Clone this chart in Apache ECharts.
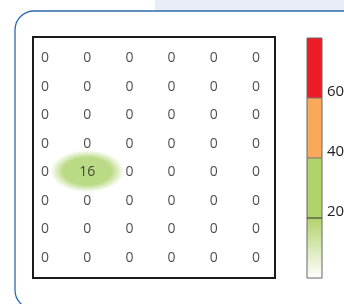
<!DOCTYPE html>
<html>
<head>
<meta charset="utf-8">
<script src="https://cdn.jsdelivr.net/npm/echarts@6/dist/echarts.min.js"></script>
<style>html,body{margin:0;padding:0;background:#fff}#c{width:344px;height:304px}</style>
</head>
<body>
<div id="c"></div>
<script>
var columns = ['c1','c2','c3','c4','c5','c6'];
var rows = ['r1','r2','r3','r4','r5','r6','r7','r8'];
var values = [
  [0,0,0,0,0,0],
  [0,0,0,0,0,0],
  [0,0,0,0,0,0],
  [0,0,0,0,0,0],
  [0,16,0,0,0,0],
  [0,0,0,0,0,0],
  [0,0,0,0,0,0],
  [0,0,0,0,0,0]
];
var legendTicks = [20, 40, 60];
var legendMax = 80;

var data = [];
for (var r = 0; r < rows.length; r++) {
  for (var c = 0; c < columns.length; c++) {
    data.push([c, r, values[r][c]]);
  }
}

var chart = echarts.init(document.getElementById('c'));
var barX = 307, barTop = 38, barH = 240, barW = 15;
function yOf(v){ return barTop + barH * (1 - v / legendMax); }
var graphics = [
  {type:'rect', shape:{x:155,y:0,width:189,height:12}, style:{fill:'#e9edf6'}, z:-10},
  {type:'rect', shape:{x:15,y:11,width:360,height:298,r:19}, style:{fill:'#fff',stroke:'#2e6aab',lineWidth:1.3}, z:-9},
  {type:'rect', shape:{x:33,y:37,width:242,height:241}, style:{fill:'none',stroke:'#1a1a1a',lineWidth:2}, z:10},
  {type:'rect', shape:{x:barX,y:yOf(80),width:barW,height:yOf(60)-yOf(80)}, style:{fill:'#ec1c24'}},
  {type:'rect', shape:{x:barX,y:yOf(60),width:barW,height:yOf(40)-yOf(60)}, style:{fill:'#f8aa5a'}},
  {type:'rect', shape:{x:barX,y:yOf(40),width:barW,height:yOf(20)-yOf(40)}, style:{fill:'#b2d36b'}},
  {type:'rect', shape:{x:barX,y:yOf(20),width:barW,height:yOf(0)-yOf(20)}, style:{fill:new echarts.graphic.LinearGradient(0,0,0,1,[{offset:0,color:'#b2d36b'},{offset:1,color:'#ffffff'}])}},
  {type:'rect', shape:{x:barX,y:barTop,width:barW,height:barH}, style:{fill:'none',stroke:'#666',lineWidth:1}}
];
legendTicks.forEach(function(t){
  graphics.push({type:'line', shape:{x1:barX,y1:yOf(t),x2:barX+barW,y2:yOf(t)}, style:{stroke:t===20?'#333':'#777',lineWidth:1}});
  graphics.push({type:'text', x:barX+20, y:yOf(t)-6, style:{text:String(t), font:'15px "Open Sans"', fill:'#222', verticalAlign:'middle', align:'left'}});
});

function greenFor(v){
  var t = 0.55 + 0.45 * Math.min(v,20)/20;
  var g=[0xa2,0xcc,0x58];
  return g.map(function(x){return Math.round(255+(x-255)*t);});
}

chart.setOption({
  animation:false,
  graphic: graphics,
  grid:{left:24, right:67, top:44, bottom:32},
  xAxis:{type:'category', data:columns, show:false},
  yAxis:{type:'category', data:rows, inverse:true, show:false},
  series:[{
    type:'scatter',
    data:data,
    symbol:'circle',
    symbolSize:function(v){ return v[2] > 0 ? [74, 42] : 10; },
    symbolOffset:[0,-1],
    itemStyle:{
      color:function(p){
        var v = p.value[2];
        if (v <= 0) return 'rgba(0,0,0,0)';
        var rgb = greenFor(v).join(',');
        return new echarts.graphic.RadialGradient(0.5,0.5,0.5,[
          {offset:0,color:'rgba('+rgb+',1)'},
          {offset:0.65,color:'rgba('+rgb+',1)'},
          {offset:1,color:'rgba('+rgb+',0)'}
        ]);
      }
    },
    label:{
      show:true, position:'inside', offset:[0,1],
      formatter:function(p){ return p.value[2]; },
      fontFamily:'Open Sans', fontSize:14, color:'#1e1e1e'
    },
    emphasis:{disabled:true}
  }]
});
</script>
</body>
</html>
